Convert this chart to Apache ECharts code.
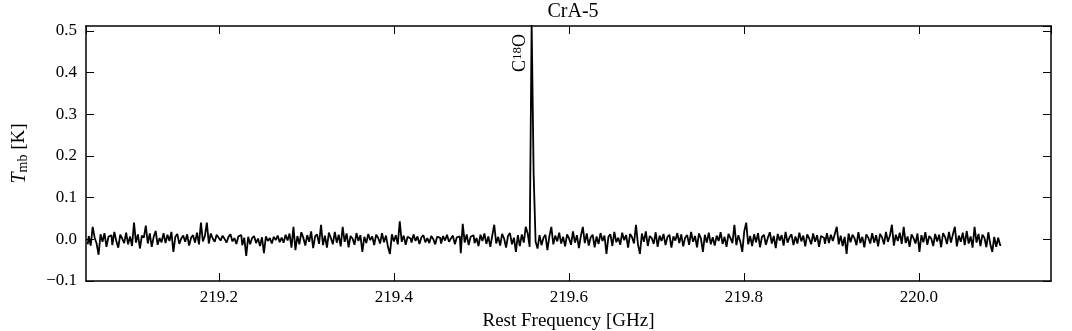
<!DOCTYPE html>
<html>
<head>
<meta charset="utf-8">
<title>CrA-5</title>
<script src="https://cdn.jsdelivr.net/npm/echarts@6/dist/echarts.min.js"></script>
<style>
  html, body { margin: 0; padding: 0; background: #fff; }
  #chart { width: 1072px; height: 331px; }
</style>
</head>
<body>
<div id="chart"></div>
<script>
  // channel grid of the spectrum (GHz)
  const freqStart = 219.050;
  const chanWidth = 0.00225;
  const xRange = [219.048, 220.151];
  const yRange = [-0.1, 0.512];
  const lineName = 'C{sup|18}O';
  const lineFreq = 219.5585;

  // T_mb [K]
  const tmb = [
    -0.012, 0.008, -0.015, 0.030, 0.004, -0.010, -0.037, 0.012, -0.006, 0.015, -0.018, 0.006, 0.010, -0.014, 0.018, -0.004, -0.020, 0.011, 0.002, -0.009,
    0.016, -0.012, 0.007, -0.016, 0.040, -0.008, 0.012, -0.022, 0.009, 0.004, 0.033, -0.010, 0.014, -0.018, 0.006, 0.020, -0.013, 0.003, -0.007, 0.015,
    -0.009, 0.011, -0.004, 0.018, -0.030, 0.006, 0.013, -0.011, 0.002, 0.009, -0.006, 0.012, -0.015, 0.004, 0.010, -0.008, 0.016, -0.012, 0.040, -0.005,
    0.008, 0.040, -0.010, 0.014, 0.002, -0.006, 0.011, 0.004, -0.003, 0.009, 0.001, -0.008, 0.006, 0.012, -0.005, 0.003, -0.011, 0.007, 0.010, -0.014,
    0.004, -0.040, 0.006, -0.012, 0.003, 0.008, -0.009, 0.002, -0.016, 0.005, -0.033, 0.007, -0.004, 0.003, -0.010, 0.006, -0.002, 0.009, -0.007, 0.004,
    -0.008, 0.011, -0.003, 0.014, -0.020, 0.030, -0.026, 0.008, -0.012, 0.017, 0.004, -0.015, 0.010, -0.006, 0.019, -0.021, 0.007, 0.012, -0.011, 0.035,
    -0.014, 0.009, -0.020, 0.016, 0.003, -0.012, 0.018, -0.008, 0.011, -0.017, 0.030, -0.006, 0.014, -0.019, 0.008, 0.002, -0.013, 0.015, -0.004, 0.010,
    -0.030, 0.006, -0.009, 0.013, -0.002, 0.007, -0.014, 0.011, 0.004, -0.010, 0.015, -0.007, 0.009, -0.018, -0.035, 0.012, -0.005, 0.010, -0.012, 0.043,
    -0.006, 0.009, -0.013, 0.006, 0.002, -0.008, 0.012, -0.004, 0.007, -0.011, 0.005, 0.010, -0.007, 0.003, -0.009, 0.008, 0.001, -0.012, 0.006, 0.004,
    -0.010, 0.008, -0.003, 0.011, -0.006, 0.002, 0.009, -0.012, 0.005, 0.007, -0.033, 0.037, -0.008, 0.012, -0.014, 0.006, 0.010, -0.009, 0.003, -0.016,
    0.011, -0.004, 0.014, -0.011, 0.007, -0.018, 0.009, 0.035, -0.010, 0.006, -0.015, 0.013, 0.002, -0.020, 0.008, 0.015, -0.012, 0.004, -0.030, 0.010,
    -0.016, 0.012, -0.008, 0.030, 0.014, -0.018, 0.520, 0.160, -0.006, -0.022, 0.010, -0.014, 0.004, 0.011, -0.026, 0.007, 0.030, -0.012, 0.009, -0.005,
    0.016, -0.010, 0.006, -0.017, 0.012, 0.002, -0.013, 0.019, -0.008, 0.010, -0.021, 0.008, 0.030, -0.009, 0.014, -0.015, 0.005, 0.011, -0.019, 0.007,
    -0.011, 0.015, -0.004, 0.009, -0.035, 0.006, 0.012, -0.016, 0.018, -0.007, 0.004, -0.013, 0.016, -0.002, 0.010, -0.020, 0.013, 0.005, -0.010, 0.035,
    -0.012, -0.035, 0.014, -0.006, 0.019, -0.016, 0.008, 0.003, -0.011, 0.017, -0.018, 0.009, -0.004, 0.013, -0.014, 0.006, 0.011, -0.020, 0.007, -0.003,
    0.015, -0.009, 0.012, -0.017, 0.004, 0.010, -0.013, 0.018, -0.006, 0.008, -0.019, 0.014, 0.002, -0.030, 0.011, -0.008, 0.016, -0.012, 0.005, -0.015,
    0.009, -0.004, 0.017, -0.011, 0.006, -0.018, 0.013, 0.003, -0.009, 0.035, -0.014, 0.010, -0.006, -0.030, 0.019, 0.040, -0.012, 0.008, -0.016, 0.012,
    -0.007, 0.015, -0.019, 0.006, 0.011, -0.013, 0.004, 0.017, -0.010, 0.008, -0.021, 0.013, -0.003, 0.010, -0.015, 0.018, -0.008, 0.005, 0.012, -0.014,
    0.007, -0.010, 0.016, -0.005, 0.009, -0.017, 0.012, 0.002, -0.012, 0.014, -0.006, 0.010, -0.018, 0.008, 0.004, -0.011, 0.015, -0.009, 0.011, -0.004,
    0.013, 0.030, -0.012, 0.009, -0.016, 0.006, -0.035, 0.014, -0.007, 0.011, 0.003, -0.014, 0.017, -0.009, 0.006, -0.019, 0.012, 0.004, -0.010, 0.015,
    -0.008, 0.010, -0.017, 0.013, 0.005, -0.012, 0.018, -0.006, 0.009, 0.035, -0.015, 0.011, -0.004, 0.016, -0.011, 0.030, -0.009, 0.007, -0.018, 0.012,
    0.003, -0.010, 0.014, -0.030, 0.010, -0.007, 0.017, -0.013, 0.008, 0.002, -0.016, 0.013, -0.005, 0.011, -0.019, 0.015, 0.006, -0.011, 0.018, -0.008,
    0.012, 0.030, -0.017, 0.009, -0.006, 0.016, -0.014, 0.020, -0.010, 0.007, -0.020, 0.030, -0.008, 0.013, -0.016, 0.011, 0.004, -0.019, 0.017, -0.012,
    -0.030, 0.006, -0.018, 0.004, -0.014
  ];

  const serif = 'Liberation Serif';
  const fmt = v => v.toFixed(1).replace('-', '\u2212');

  let spectrum = tmb.map((t, i) => [freqStart + i * chanWidth, t]);

  let frame = { show: true, onZero: false, lineStyle: { color: '#000', width: 1.5 } };
  let ticks = { show: true, inside: true, length: 8, lineStyle: { color: '#000', width: 1 } };
  let tickFont = { color: '#000', fontFamily: serif, fontSize: 17 };

  let chart = echarts.init(document.getElementById('chart'), null, { renderer: 'canvas' });
  chart.setOption({
    animation: false,
    backgroundColor: '#fff',
    title: {
      text: 'CrA-5',
      left: 568,
      textAlign: 'center',
      top: -3,
      textStyle: { fontFamily: serif, fontSize: 20, fontWeight: 'normal', color: '#000' }
    },
    grid: { left: 86, right: 21, top: 26, bottom: 50, containLabel: false, outerBoundsMode: 'none' },
    xAxis: [{
      type: 'value',
      position: 'bottom',
      min: xRange[0],
      max: xRange[1],
      splitNumber: 5,
      axisLine: frame,
      axisTick: ticks,
      splitLine: { show: false },
      axisLabel: Object.assign({ margin: 8, formatter: fmt, showMinLabel: false, showMaxLabel: false }, tickFont),
      name: 'Rest Frequency [GHz]',
      nameLocation: 'middle',
      nameGap: 31,
      nameTextStyle: { fontFamily: serif, fontSize: 19, color: '#000' }
    }, {
      type: 'value',
      position: 'top',
      min: xRange[0],
      max: xRange[1],
      splitNumber: 5,
      axisLine: frame,
      axisTick: ticks,
      splitLine: { show: false },
      axisLabel: { show: false }
    }],
    yAxis: [{
      type: 'value',
      position: 'left',
      min: yRange[0],
      max: yRange[1],
      interval: 0.1,
      axisLine: frame,
      axisTick: ticks,
      splitLine: { show: false },
      axisLabel: Object.assign({ margin: 9, formatter: fmt, showMaxLabel: false }, tickFont),
      name: '{i|T}{sub|mb} [K]',
      nameLocation: 'middle',
      nameGap: 56,
      nameTextStyle: {
        fontFamily: serif, fontSize: 19, color: '#000',
        rich: {
          i: { fontFamily: serif, fontSize: 20, fontStyle: 'italic', color: '#000' },
          sub: { fontFamily: serif, fontSize: 14, color: '#000', verticalAlign: 'bottom', padding: [7, 0, 0, 0] }
        }
      }
    }, {
      type: 'value',
      position: 'right',
      min: yRange[0],
      max: yRange[1],
      interval: 0.1,
      axisLine: frame,
      axisTick: ticks,
      splitLine: { show: false },
      axisLabel: { show: false }
    }],
    series: [{
      type: 'line',
      data: spectrum,
      xAxisIndex: 0,
      yAxisIndex: 0,
      step: 'middle',
      showSymbol: false,
      clip: true,
      lineStyle: { color: '#000', width: 1.8 },
      markPoint: {
        symbol: 'circle',
        symbolSize: 0,
        silent: true,
        data: [{
          coord: [lineFreq, yRange[1]],
          label: {
            show: true,
            formatter: lineName,
            rotate: 90,
            position: [-3, 8],
            align: 'right',
            verticalAlign: 'bottom',
            fontFamily: serif,
            fontSize: 18,
            color: '#000',
            rich: {
              sup: { fontFamily: serif, fontSize: 13, color: '#000', verticalAlign: 'top', padding: [0, 0, 6, 0] }
            }
          }
        }]
      }
    }]
  });
</script>
</body>
</html>
